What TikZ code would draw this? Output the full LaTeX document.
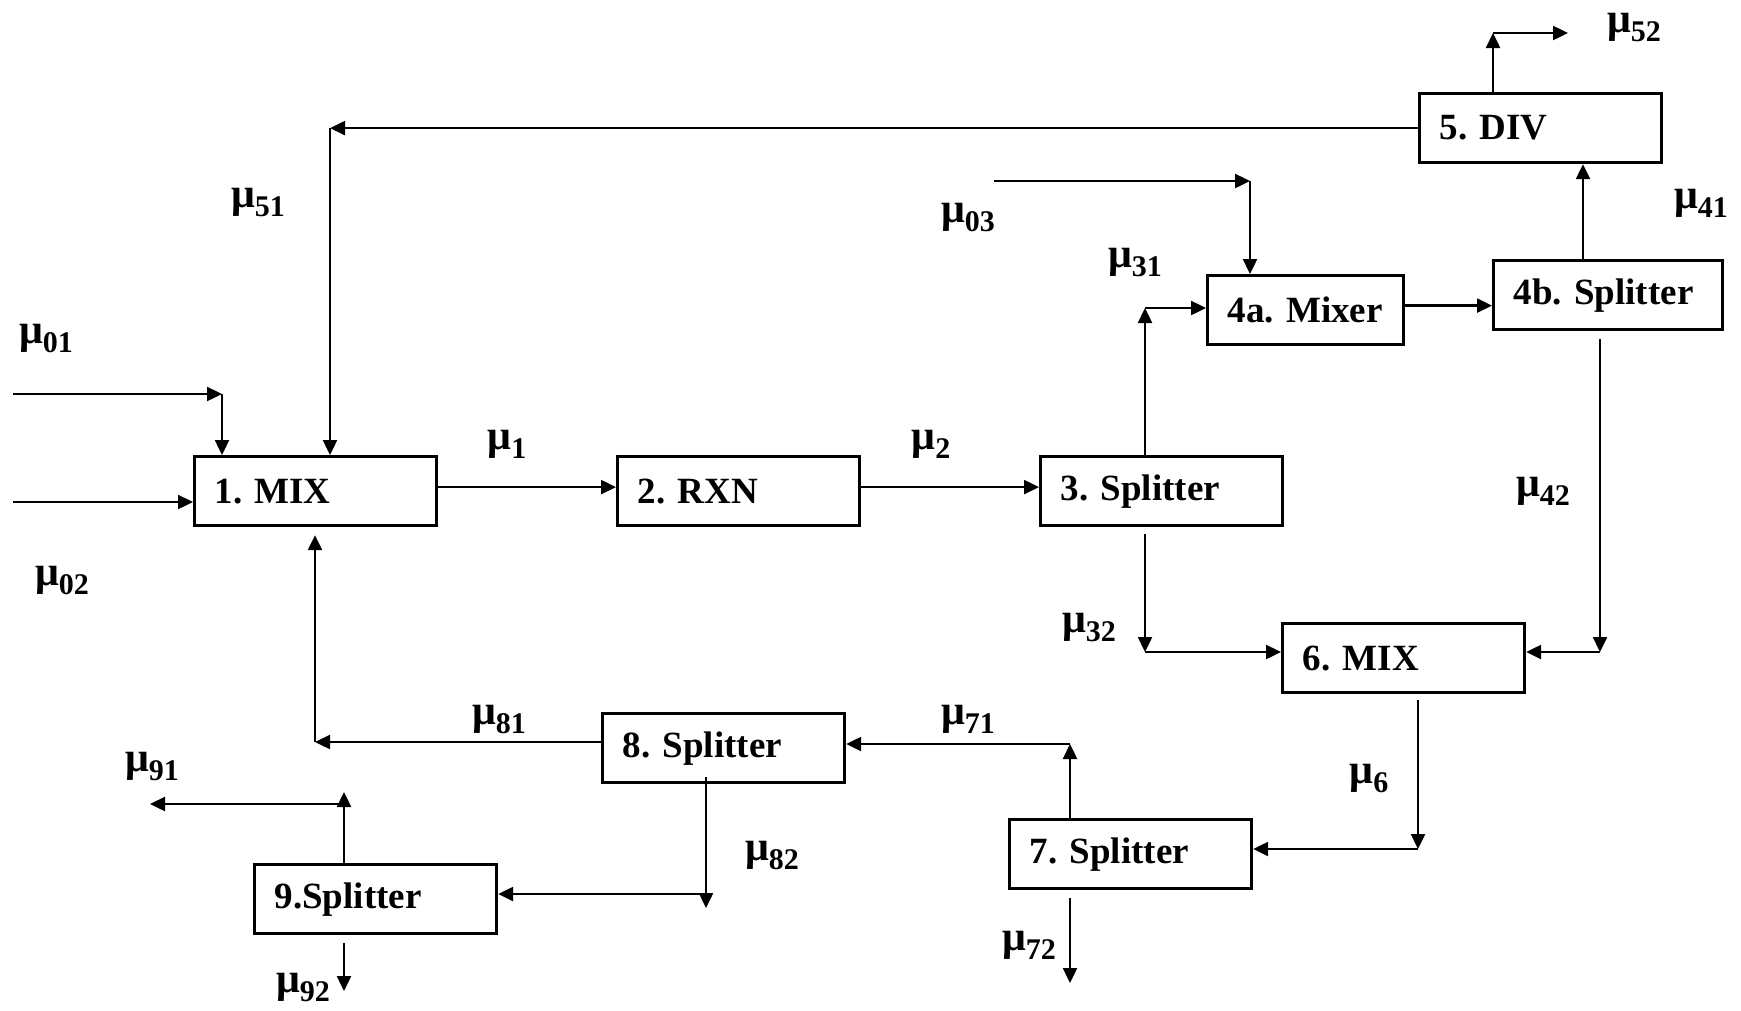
\documentclass[tikz,border=0pt]{standalone}
\usepackage{fontspec}
\setmainfont{Liberation Serif}
\usetikzlibrary{arrows.meta}
\newcommand{\mub}[1]{{\fontsize{42}{44}\selectfont μ}\raisebox{-9pt}{\fontsize{30}{30}\selectfont #1}}
\begin{document}
\frenchspacing
\begin{tikzpicture}[x=1pt,y=-1pt,
  box/.style={draw, line width=3.2pt, rectangle, minimum height=69pt, inner xsep=20pt, inner ysep=0pt,
    text width=#1, align=left, anchor=north west, font=\bfseries\fontsize{37}{40}\selectfont},
  arr/.style={line width=2.4pt, -{Triangle[length=15pt,width=14pt]}},
  lab/.style={inner sep=0pt, font=\bfseries\fontsize{37}{40}\selectfont}]
\useasboundingbox (0,0) rectangle (1741,1010);
% boxes
\node[box=202pt] (b1) at (193,455) {1. MIX};
\node[box=202pt] (b2) at (616,455) {2. RXN};
\node[box=202pt] (b3) at (1039,455) {3. Splitter};
\node[box=156pt] (b4a) at (1206,274) {\mbox{4a. Mixer}};
\node[box=189pt] (b4b) at (1492,259) {\mbox{4b. Splitter}};
\node[box=202pt] (b5) at (1418,92) {5. DIV};
\node[box=202pt] (b6) at (1281,622) {6. MIX};
\node[box=202pt] (b7) at (1008,818) {7. Splitter};
\node[box=202pt] (b8) at (601,712) {8. Splitter};
\node[box=202pt] (b9) at (253,863) {9.Splitter};
% coordinates
\coordinate (s01) at (13,394);
\coordinate (k01) at (222,394);
\coordinate (s02) at (13,502);
\coordinate (x51) at (330,0);
\coordinate (k81) at (315,742);
\coordinate (k31) at (1145,308);
\coordinate (s03) at (994,181);
\coordinate (k03) at (1250,181);
\coordinate (x41) at (1583,0);
\coordinate (k52) at (1493,33);
\coordinate (e52) at (1568,33);
\coordinate (k42) at (1600,652);
\coordinate (k32) at (1145,652);
\coordinate (k6) at (1418,849);
\coordinate (k71) at (1070,744);
\coordinate (e72) at (1070,983);
\coordinate (k82) at (706,908);
\coordinate (j82) at (706,894);
\coordinate (k91) at (344,792);
\coordinate (j91) at (344,804);
\coordinate (e91) at (150,804);
\coordinate (e92) at (344,991);
% connectors
\draw[arr] (s01) -- (k01);
\draw[arr] (k01) -- (k01 |- b1.north);
\draw[arr] (s02) -- (s02 -| b1.west);
\draw[arr] (b5.west) -- (b5.west -| x51);
\draw[arr] (b5.west -| x51) -- (x51 |- b1.north);
\draw[arr] (b8.west |- k81) -- (k81);
\draw[arr, shorten >=8pt] (k81) -- (k81 |- b1.south);
\draw[arr] ([yshift=4pt]b1.east) -- ([yshift=4pt]b2.west);
\draw[arr] ([yshift=4pt]b2.east) -- ([yshift=4pt]b3.west);
\draw[arr] (b3.north -| k31) -- (k31);
\draw[arr] (k31) -- (k31 -| b4a.west);
\draw[arr] (s03) -- (k03);
\draw[arr] (k03) -- (k03 |- b4a.north);
\draw[arr] ([yshift=4.5pt]b4a.east) -- ([yshift=4.5pt]b4a.east -| b4b.west);
\draw[arr] (b4b.north -| x41) -- (b5.south -| x41);
\draw[arr] (b5.north -| k52) -- (k52);
\draw[arr] (k52) -- (e52);
\draw[arr, shorten <=8pt] (b4b.south -| k42) -- (k42);
\draw[arr] (k42) -- (k42 -| b6.east);
\draw[arr, shorten <=7pt] (b3.south -| k32) -- (k32);
\draw[arr] (k32) -- (k32 -| b6.west);
\draw[arr, shorten <=6pt] (b6.south -| k6) -- (k6);
\draw[arr] (k6) -- (k6 -| b7.east);
\draw[arr] (b7.north -| k71) -- (k71);
\draw[arr] (k71) -- (k71 -| b8.east);
\draw[arr, shorten <=8pt] (b7.south -| e72) -- (e72);
\draw[arr, shorten <=-7pt] (b8.south -| k82) -- (k82);
\draw[arr] (j82) -- (j82 -| b9.east);
\draw[arr] (b9.north -| k91) -- (k91);
\draw[arr] (j91) -- (e91);
\draw[arr, shorten <=8pt] (b9.south -| e92) -- (e92);
% labels
\node[lab] (l52) at (1634,28) {\mub{52}};
\node[lab] (l51) at (258,203) {\mub{51}};
\node[lab] (l03) at (968,218) {\mub{03}};
\node[lab] (l31) at (1135,263) {\mub{31}};
\node[lab] (l41) at (1701,203) {\mub{41}};
\node[lab] (l01) at (46,339) {\mub{01}};
\node[lab] (l1) at (507,444) {\mub{1}};
\node[lab] (l2) at (931,444) {\mub{2}};
\node[lab] (l42) at (1543,491) {\mub{42}};
\node[lab] (l02) at (62,580) {\mub{02}};
\node[lab] (l32) at (1089,627) {\mub{32}};
\node[lab] (l81) at (499,719) {\mub{81}};
\node[lab] (l71) at (968,719) {\mub{71}};
\node[lab] (l91) at (152,766) {\mub{91}};
\node[lab] (l6) at (1369,778) {\mub{6}};
\node[lab] (l82) at (772,855) {\mub{82}};
\node[lab] (l72) at (1029,945) {\mub{72}};
\node[lab] (l92) at (303,987) {\mub{92}};
\end{tikzpicture}
\end{document}
